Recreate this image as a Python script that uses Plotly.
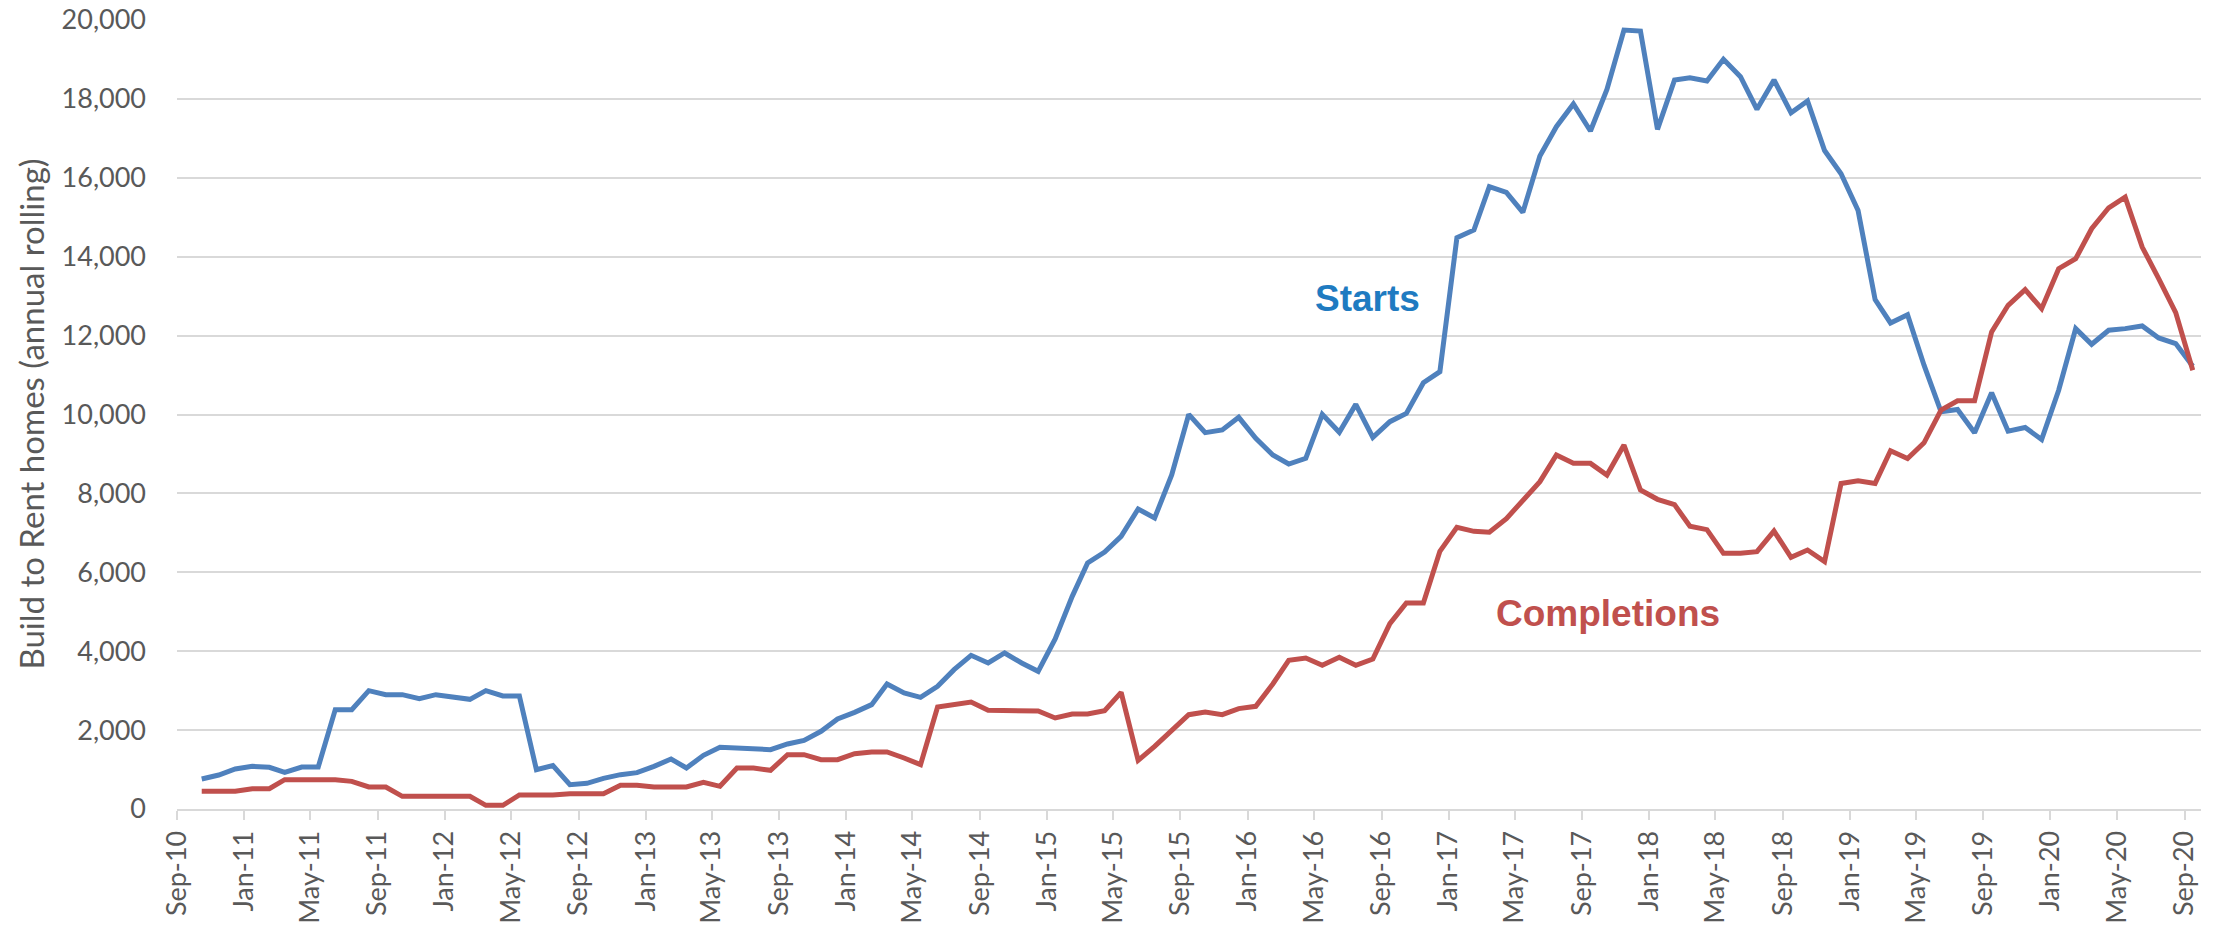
import pandas as pd
import plotly.graph_objects as go

# Monthly categories: Oct-2010 .. Sep-2020 (plotted mid-month)
months = pd.date_range("2010-10-01", periods=120, freq="MS") + pd.Timedelta(days=15)

starts = [
    760, 862, 1014, 1082, 1056, 930, 1065, 1065, 2518, 2518,
    3000, 2898, 2898, 2797, 2898, 2830, 2780, 3000, 2865, 2865,
    997, 1099, 617, 650, 777, 870, 921, 1082, 1268, 1040,
    1360, 1563, 1538, 1512, 1504, 1648, 1740, 1969, 2282, 2450,
    2645, 3169, 2940, 2831, 3110, 3532, 3895, 3701, 3955, 3701,
    3490, 4310, 5391, 6236, 6515, 6912, 7605, 7377, 8466, 10004,
    9539, 9607, 9928, 9395, 8973, 8745, 8888, 10004, 9548, 10257,
    9421, 9818, 10029, 10806, 11085, 14482, 14677, 15775, 15631, 15124,
    16552, 17296, 17871, 17186, 18242, 19746, 19721, 17228, 18479, 18538,
    18454, 19003, 18563, 17735, 18479, 17651, 17950, 16692, 16101, 15173,
    12911, 12320, 12531, 11249, 10068, 10127, 9536, 10549, 9578, 9671,
    9367, 10616, 12177, 11780, 12135, 12177, 12245, 11941, 11797, 11224,
]

completions = [
    448, 448, 448, 515, 515, 744, 744, 744, 744, 701,
    558, 558, 321, 321, 321, 321, 321, 93, 93, 355,
    355, 355, 389, 389, 389, 600, 600, 558, 558, 558,
    676, 575, 1040, 1040, 980, 1377, 1377, 1250, 1250, 1403,
    1445, 1445, 1293, 1124, 2586, 2662, 2712, 2501, 2501, 2484,
    2484, 2307, 2408, 2408, 2493, 2958, 1234, 1589, 2011, 2391,
    2459, 2391, 2544, 2603, 3169, 3769, 3828, 3642, 3845, 3642,
    3803, 4698, 5222, 5222, 6532, 7140, 7039, 7014, 7360, 7830,
    8297, 8973, 8762, 8762, 8466, 9226, 8085, 7850, 7715, 7166,
    7081, 6480, 6480, 6523, 7046, 6380, 6565, 6270, 8253, 8320,
    8253, 9080, 8886, 9283, 10110, 10346, 10346, 12093, 12768, 13164,
    12684, 13696, 13949, 14709, 15240, 15511, 14245, 13443, 12582, 11122,
]

y_ticks = list(range(0, 20001, 2000))

BLUE = "#4F81BD"
RED = "#C0504D"
GRID = "#D9D9D9"
TXT = "#595959"
TICKFONT = dict(family="Lato", size=27, color=TXT)

fig = go.Figure()
fig.add_trace(go.Scatter(x=months, y=starts, mode="lines", name="Starts",
                         line=dict(color=BLUE, width=5)))
fig.add_trace(go.Scatter(x=months, y=completions, mode="lines", name="Completions",
                         line=dict(color=RED, width=5)))

fig.add_annotation(text="<b>Starts</b>", x=0.5884, xref="paper", xanchor="center",
                   y=12930, yref="y", yanchor="middle", showarrow=False,
                   font=dict(family="Liberation Sans, Arial", size=37, color="#1F7BC1"))
fig.add_annotation(text="<b>Completions</b>", x=0.707, xref="paper", xanchor="center",
                   y=4968, yref="y", yanchor="middle", showarrow=False,
                   font=dict(family="Liberation Sans, Arial", size=37, color=RED))
# y-axis title
fig.add_annotation(text="Build to Rent homes (annual rolling)", textangle=-90,
                   x=-0.0726, xref="paper", xanchor="center",
                   y=0.5, yref="paper", yanchor="middle", showarrow=False,
                   font=dict(family="Lato", size=33, color=TXT))

fig.update_layout(
    width=2225, height=929,
    margin=dict(l=177, r=24, t=20, b=120),
    paper_bgcolor="white", plot_bgcolor="white",
    showlegend=False,
    font=dict(family="Lato", size=27, color=TXT),
)
fig.update_xaxes(
    type="date",
    range=["2010-09-01", "2020-10-01"],
    tick0="2010-09-01", dtick="M4", tickformat="%b-%y",
    tickangle=-90,
    showgrid=False,
    showline=True, linecolor=GRID, linewidth=2,
    ticks="outside", ticklen=9, tickcolor=GRID, tickwidth=2,
    tickfont=TICKFONT, automargin=False,
)
fig.update_yaxes(
    range=[0, 20000],
    tickvals=y_ticks, tickformat=",d",
    showgrid=True, gridcolor=GRID, gridwidth=2,
    zeroline=False, showline=False, ticks="",
    ticklabelstandoff=30,
    tickfont=TICKFONT, automargin=False,
)

fig.write_html("out.html", config={"displayModeBar": False},
               post_script="document.body.style.margin='0';")
